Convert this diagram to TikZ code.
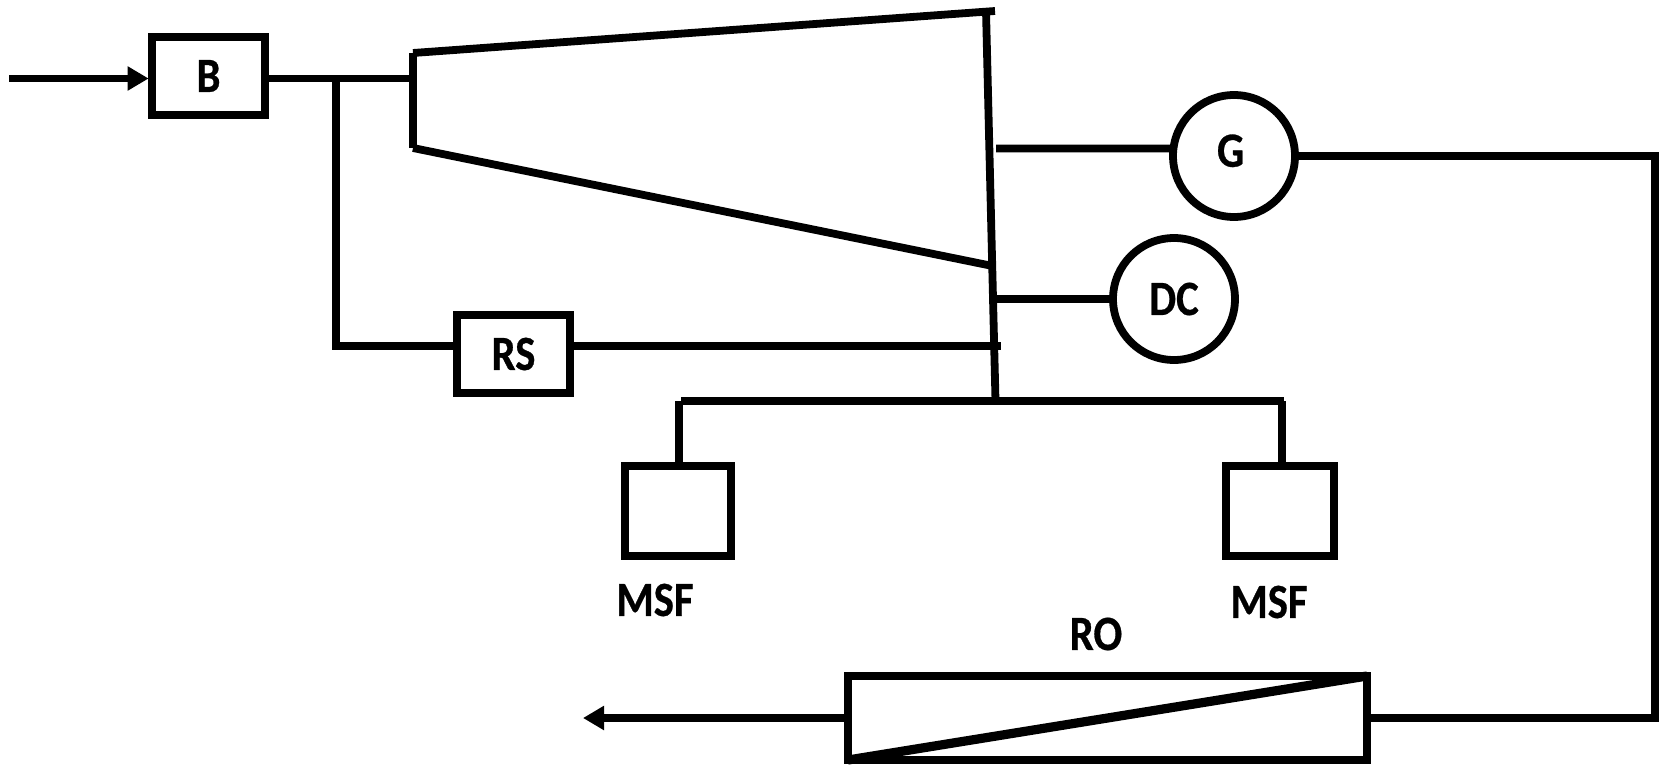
\documentclass[tikz,border=0pt]{standalone}
\usepackage{fontspec}
\setmainfont{Carlito}[BoldFeatures={FakeBold=0.6}]
\usetikzlibrary{arrows.meta,calc}
\newcommand{\tallcap}[1]{\scalebox{0.97}[1.12]{#1}}
\tikzset{
  wire/.style={line width=3.9pt,draw=black},
  procbox/.style={draw=black,line width=3.9pt,rectangle,inner sep=0pt,outer sep=0pt,font=\fontsize{22}{24}\selectfont\bfseries},
  machine/.style={draw=black,line width=3.9pt,circle,inner sep=0pt,outer sep=0pt,minimum size=61pt,font=\fontsize{22}{24}\selectfont\bfseries},
  caption/.style={inner sep=0pt,font=\fontsize{22}{24}\selectfont\bfseries},
  flow/.style={wire,-{Triangle[length=10.5pt,width=11.5pt]}}
}
\begin{document}
\begin{tikzpicture}[x=0.5pt,y=-0.5pt]
\useasboundingbox (0,0) rectangle (1659,765);
% boxes and machines
\node[procbox,minimum width=56.25pt,minimum height=39pt] (B) at (208.5,76) {\tallcap{B}};
\node[procbox,minimum width=56.5pt,minimum height=39pt] (RS) at (513.5,354) {\tallcap{RS}};
\node[procbox,minimum width=53pt,minimum height=45pt] (MSFa) at (678,511) {};
\node[procbox,minimum width=54pt,minimum height=45pt] (MSFb) at (1280,511) {};
\node[procbox,minimum width=259.5pt,minimum height=42pt] (RO) at (1107.5,718) {};
\node[machine,label={[xshift=-1.7pt,yshift=2.6pt,font=\fontsize{22}{24}\selectfont\bfseries]center:\tallcap{G}}] (G) at (1234,156) {};
\node[machine] (DC) at (1174,299) {\tallcap{DC}};
% captions
\node[caption] (MSFt1) at (655,600) {\tallcap{MSF}};
\node[caption] (MSFt2) at (1269,602) {\tallcap{MSF}};
\node[caption] (ROt) at (1096,634) {\tallcap{RO}};
% free ends and turbine corners
\coordinate (in) at (9,78.5);
\coordinate (out) at (583,718);
\coordinate (inlet) at (413,78.5);
\coordinate (TL) at (413,53);
\coordinate (BL) at (413,148);
\coordinate (TR) at (995,11);
\coordinate (BR) at (995,266.5);
\coordinate (ShT) at (986,11);
\coordinate (ShB) at (995.5,401);
\coordinate (busL) at (681,401);
\coordinate (busR) at (1284,401);
\coordinate (dropL) at (679,401);
\coordinate (dropR) at (1282,401);
\coordinate (split) at (336,78.5);
\coordinate (rsturn) at (336,346);
\coordinate (shG) at (996,148.5);
\coordinate (shDC) at (996,299);
\coordinate (shRS) at (1001,346);
\coordinate (rightc) at (1655,156);
% turbine
\draw[wire] (TR) -- (TL);
\draw[wire] (TL) -- (BL);
\draw[wire] (BL) -- (BR);
\draw[wire] (ShT) -- (ShB);
% connectors
\draw[flow,shorten >=1.8pt] (in) -- (in -| B.west);
\draw[wire] (B.east |- inlet) -- (inlet);
\draw[wire] (split) -- (rsturn) -- (rsturn -| RS.west);
\draw[wire] (RS.east |- rsturn) -- (shRS);
\draw[wire] (shG) -- (G.173);
\draw[wire] (shDC) -- (DC.west);
\draw[wire] (busL) -- (busR);
\draw[wire] (dropL) -- (dropL |- MSFa.north);
\draw[wire] (dropR) -- (dropR |- MSFb.north);
\draw[wire] (G.east) -- (rightc) -- (rightc |- RO.east) -- (RO.east);
\draw[wire,line width=4.6pt] (RO.south west) -- (RO.north east);
\draw[flow] (RO.west) -- (out);
\end{tikzpicture}
\end{document}
